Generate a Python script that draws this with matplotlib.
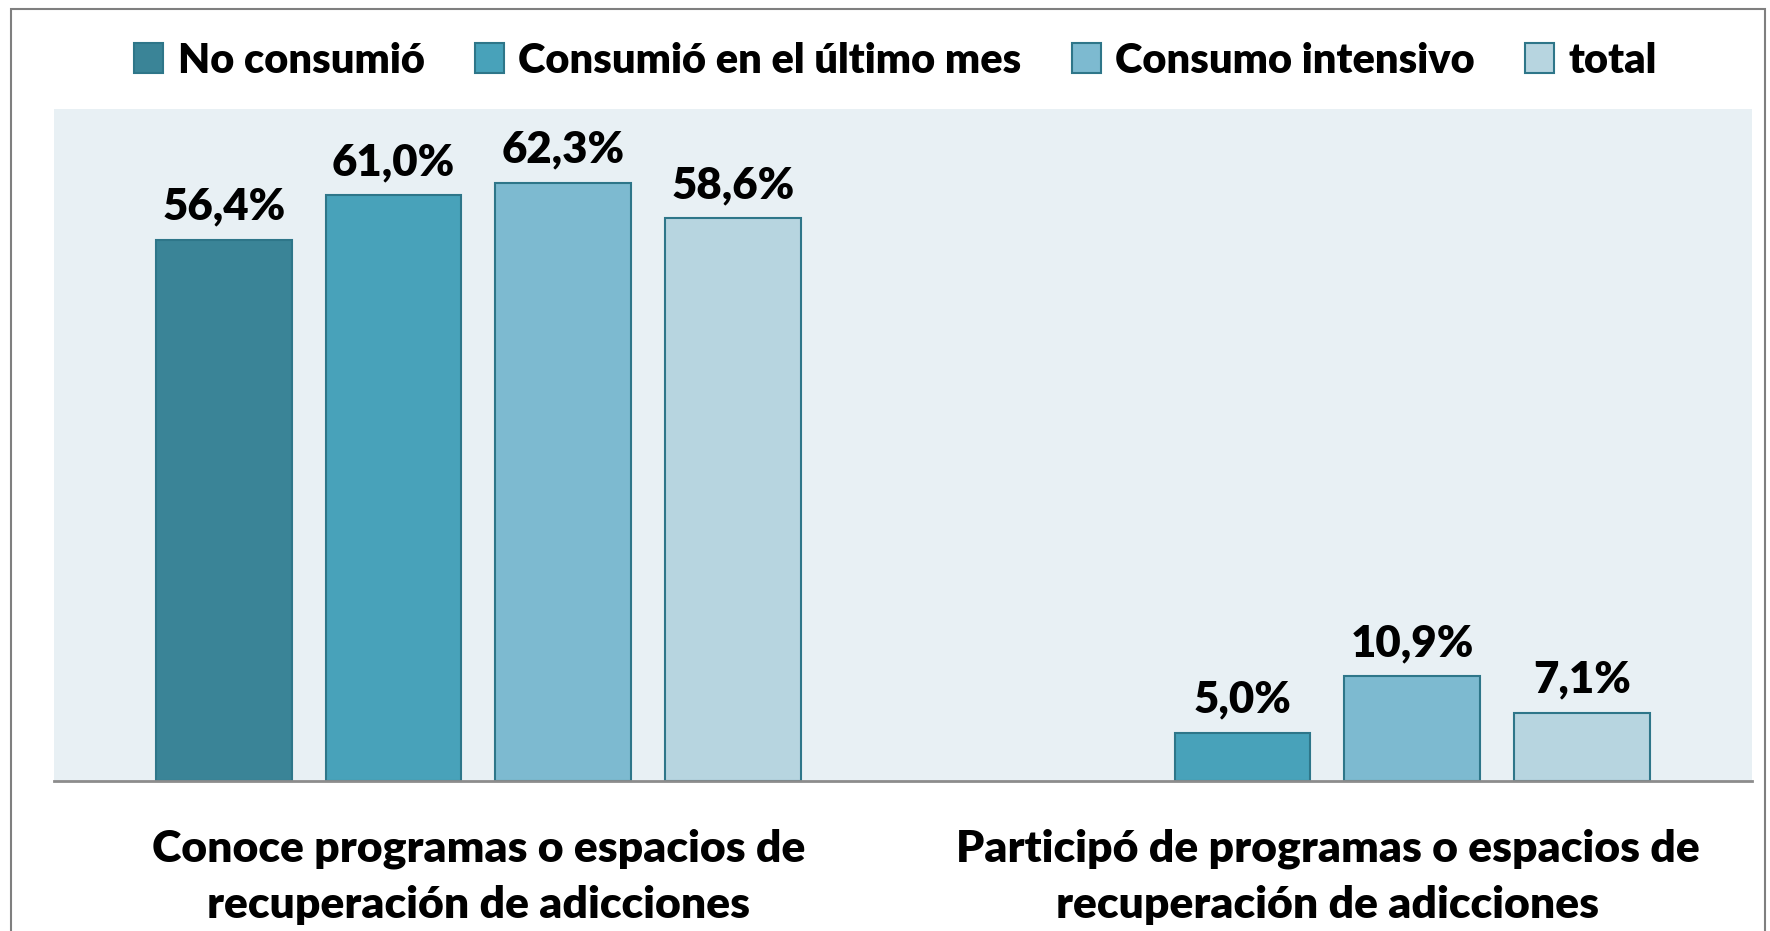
import numpy as np
import matplotlib
matplotlib.use("Agg")
import matplotlib.pyplot as plt
from matplotlib.patches import Rectangle

plt.rcParams['font.family'] = ['Lato', 'DejaVu Sans']
plt.rcParams['font.weight'] = 'bold'

categories = ["Conoce programas o espacios de\nrecuperación de adicciones",
              "Participó de programas o espacios de\nrecuperación de adicciones"]
series = ["No consumió", "Consumió en el último mes", "Consumo intensivo", "total"]
no_consumio = [56.4, np.nan]
consumio_mes = [61.0, 5.0]
consumo_intensivo = [62.3, 10.9]
total = [58.6, 7.1]

values = [no_consumio, consumio_mes, consumo_intensivo, total]
colors = ['#3A8497', '#48A2BA', '#7DBAD0', '#B7D5E0']
edge = '#2E7689'

fig = plt.figure(figsize=(17.7, 9.31), dpi=100)
ax = fig.add_axes([0.0305, 0.1611, 0.9593, 0.7218])
ax.set_facecolor('#E8F0F4')

x = np.arange(len(categories))
width = 0.16
offsets = [-0.3, -0.1, 0.1, 0.3]
for vals, col, off, name in zip(values, colors, offsets, series):
    bars = ax.bar(x + off, vals, width, color=col, edgecolor=edge, linewidth=1.5, label=name)
    for b, v in zip(bars, vals):
        if np.isnan(v):
            continue
        ax.text(b.get_x() + b.get_width() / 2, v + 1.4, f"{v:.1f}%".replace('.', ','),
                ha='center', va='bottom', fontsize=31.5, fontweight='heavy')

ax.set_xlim(-0.5, 1.5)
ax.set_ylim(0, 70)
ax.set_yticks([])
ax.set_xticks(x)
ax.set_xticklabels(categories, fontsize=32, fontweight='heavy', linespacing=1.5)
ax.tick_params(axis='x', length=0, pad=34)
for s in ['top', 'right', 'left']:
    ax.spines[s].set_visible(False)
ax.spines['bottom'].set_color('#8C8C8C')
ax.spines['bottom'].set_linewidth(2)

fig.legend(loc='center', bbox_to_anchor=(0.506, 0.935), ncol=4, frameon=False,
           handlelength=0.7, handleheight=0.7, handletextpad=0.35,
           columnspacing=1.2, prop={'weight': 'heavy', 'size': 30})

fig.patches.append(Rectangle((0.006, -0.05), 0.991, 1.04, transform=fig.transFigure,
                             fill=False, edgecolor='#7F7F7F', linewidth=1.5))

fig.savefig("out.png", dpi=100)
